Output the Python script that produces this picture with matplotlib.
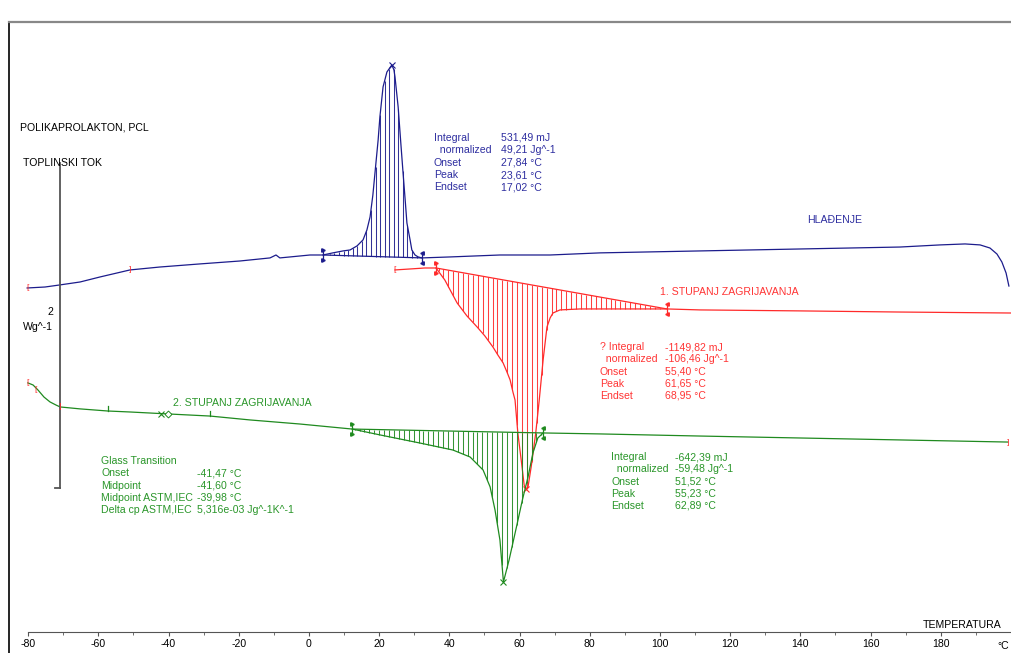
import numpy as np
import matplotlib.pyplot as plt
from matplotlib.lines import Line2D

plt.rcParams["font.family"] = ["Liberation Sans", "DejaVu Sans"]
plt.rcParams["axes.unicode_minus"] = False

# HLAĐENJE (plava krivulja), temperatura [°C] i toplinski tok [W/g]
cool_T = [-80.3, -75.2, -70.9, -65.2, -59.5, -51.0, -42.5, -31.1, -19.7, -11.1, -9.4, -8.3, -5.4, 0.3,
          4.0, 6.8, 9.7, 11.7, 13.7, 15.4, 16.5, 17.4, 18.2, 18.8, 19.7, 20.2, 21.1, 22.2, 23.6,
          24.2, 24.5, 25.4, 26.2, 26.8, 27.4, 27.9, 28.8, 29.3, 30.2, 31.1, 32.2,
          40.2, 54.4, 68.7, 82.9, 97.2, 111.4, 125.6, 139.9, 154.1, 168.4, 179.8, 186.9,
          191.2, 194.0, 196.0, 197.4, 198.6, 199.4]
cool_hf = [2.246, 2.252, 2.265, 2.283, 2.314, 2.357, 2.375, 2.394, 2.412, 2.431, 2.449, 2.431, 2.437, 2.449,
           2.449, 2.462, 2.474, 2.480, 2.505, 2.542, 2.603, 2.683, 2.818, 2.954, 3.157, 3.298, 3.483, 3.575, 3.618,
           3.588, 3.545, 3.360, 3.126, 2.954, 2.788, 2.646, 2.542, 2.480, 2.449, 2.437, 2.431,
           2.437, 2.449, 2.449, 2.462, 2.468, 2.474, 2.480, 2.486, 2.492, 2.498, 2.511, 2.517,
           2.511, 2.492, 2.455, 2.406, 2.338, 2.258]

# 1. STUPANJ ZAGRIJAVANJA (crvena)
heat1_T = [24.5, 28.8, 33.0, 36.2, 38.7, 42.2, 45.0, 47.9, 50.1, 52.4, 53.8, 55.3, 56.4, 57.3, 58.1,
           58.7, 59.5, 60.7, 61.3, 61.7, 62.4, 63.3, 64.6, 65.6, 66.7, 67.8, 68.7, 69.5, 71.5,
           77.2, 88.6, 102.0, 111.4, 139.9, 168.4, 200.0]
heat1_hf = [2.357, 2.363, 2.369, 2.369, 2.295, 2.154, 2.074, 2.006, 1.951, 1.883, 1.834, 1.785, 1.729, 1.680, 1.606,
            1.557, 1.354, 1.145, 1.034, 1.009, 1.022, 1.145, 1.354, 1.557, 1.803, 2.006, 2.062, 2.092, 2.111,
            2.117, 2.117, 2.117, 2.111, 2.105, 2.098, 2.092]

# 2. STUPANJ ZAGRIJAVANJA (zelena)
heat2_T = [-80.1, -78.6, -77.2, -75.5, -73.8, -72.1, -70.9, -65.2, -57.3, -51.0, -40.2, -28.2, -16.8, -2.6,
           12.3, 20.2, 31.6, 41.0, 45.9, 49.6, 51.6, 53.0, 54.4, 55.4, 57.0, 59.1, 60.8, 62.4, 63.8,
           65.2, 66.7, 82.9, 111.4, 139.9, 168.4, 199.1]
heat2_hf = [1.662, 1.649, 1.618, 1.575, 1.545, 1.526, 1.514, 1.502, 1.489, 1.483, 1.471, 1.458, 1.434, 1.409,
            1.378, 1.342, 1.292, 1.249, 1.206, 1.126, 1.022, 0.880, 0.695, 0.437, 0.572, 0.775, 0.942, 1.083, 1.231,
            1.323, 1.354, 1.348, 1.335, 1.323, 1.311, 1.298]

# granice integracije i vrhovi
cool_lim = (4.0, 32.2)
heat1_lim = (36.2, 102.0)
heat2_lim = (12.3, 66.7)
cool_peak = 23.6
heat1_peak = 61.7
heat2_peak = 55.4

cool_info = (["Integral", "  normalized", "Onset", "Peak", "Endset"],
             ["531,49 mJ", "49,21 Jg^-1", "27,84 °C", "23,61 °C", "17,02 °C"])
heat1_info = (["? Integral", "  normalized", "Onset", "Peak", "Endset"],
              ["-1149,82 mJ", "-106,46 Jg^-1", "55,40 °C", "61,65 °C", "68,95 °C"])
heat2_info = (["Integral", "  normalized", "Onset", "Peak", "Endset"],
              ["-642,39 mJ", "-59,48 Jg^-1", "51,52 °C", "55,23 °C", "62,89 °C"])
tg_info = (["Glass Transition", "Onset", "Midpoint", "Midpoint ASTM,IEC", "Delta cp ASTM,IEC"],
           ["", "-41,47 °C", "-41,60 °C", "-39,98 °C", "5,316e-03 Jg^-1K^-1"])

BLUE = "#1c1c8c"
RED = "#ff2a2a"
GREEN = "#1f8a1f"
BLUE_T = "#2e2ea0"
RED_T = "#ff3535"
GREEN_T = "#2a962a"
FS = 7.6

W, H = 1011, 653
fig = plt.figure(figsize=(W / 100, H / 100), dpi=100)
ax = fig.add_axes([0, 0, 1, 1])
ax.set_xlim(-88.03, 200.0)
ax.set_ylim(0, 4.018)


def px(x, y):
    # y je sredina teksta; pomak na baznu liniju (cijeli piksel)
    return x / W, 1 - round(y + 4) / H


def peak(T, hf, lim, pk, col, step):
    T = np.array(T)
    hf = np.array(hf)
    ax.plot(T, hf, color=col, lw=0.9)
    y0, y1 = np.interp(lim, T, hf)
    ax.plot(lim, [y0, y1], color=col, lw=0.9)
    ht = np.arange(lim[0] + step / 2, lim[1], step)
    base = np.interp(ht, lim, [y0, y1])
    ax.vlines(ht, base, np.interp(ht, T, hf), color=col, lw=0.75, alpha=0.9)
    for t, y, m in [(lim[0], y0, ">"), (lim[1], y1, "<")]:
        ax.plot([t, t], [y - 0.035, y + 0.035], color=col, lw=0.9)
        ax.plot([t, t], [y - 0.03, y + 0.03], ls="none", marker=m, ms=2.5, color=col)
    ax.plot(pk, np.interp(pk, T, hf), marker="x", ms=5, mew=0.8, color=col)


peak(cool_T, cool_hf, cool_lim, cool_peak, BLUE, 1.3)
peak(heat1_T, heat1_hf, heat1_lim, heat1_peak, RED, 1.4)
peak(heat2_T, heat2_hf, heat2_lim, heat2_peak, GREEN, 1.4)

# oznake staklastog prijelaza
tg_marks = [-57.3, -28.2]
for t in tg_marks:
    y = np.interp(t, heat2_T, heat2_hf)
    ax.plot([t, t], [y, y + 0.03], color=GREEN, lw=0.9)
ax.plot(-42.3, np.interp(-42.3, heat2_T, heat2_hf), marker="x", ms=4, mew=0.8, color=GREEN)
ax.plot(-40.2, np.interp(-40.2, heat2_T, heat2_hf), marker="D", ms=3.5, mfc="white", mew=0.7, color=GREEN)

# crvene zagrade (granice evaluacije)
brackets = [(cool_T[0], cool_hf[0], "["), (-51.0, 2.357, "]"), (heat1_T[0], heat1_hf[0], "["),
            (heat2_T[0], heat2_hf[0], "["), (-77.8, 1.62, "["), (-70.9, 1.514, "]"),
            (heat2_T[-1], heat2_hf[-1], "]")]
for t, y, s in brackets:
    ax.text(t, y, s, color=RED, fontsize=6, ha="center", va="center")

# mjerilo toplinskog toka: 2 W/g
bar_T = -70.9
bar_bottom = 1.015
bar_len = 2.0
ax.plot([bar_T, bar_T], [bar_bottom, bar_bottom + bar_len], color="#555555", lw=1.3)
ax.plot([bar_T - 1.6, bar_T], [bar_bottom, bar_bottom], color="#555555", lw=1.3)

# os temperature
for s in ["left", "right", "top"]:
    ax.spines[s].set_visible(False)
ax.spines["bottom"].set_position(("data", 0.129))
ax.spines["bottom"].set_bounds(-80, 200)
ax.spines["bottom"].set_color("#555555")
ax.set_yticks([])
ax.set_xticks(np.arange(-80, 181, 20))
ax.set_xticks(np.arange(-80, 201, 10), minor=True)
ax.tick_params(axis="x", which="both", direction="out", length=3, color="#555555",
               labelsize=FS, pad=2)
ax.tick_params(axis="x", which="minor", length=2.5)
ax.set_facecolor("white")

# okvir
fig.add_artist(Line2D([9 / W, 9 / W], [0, 1 - 22 / H], color="black", lw=1.2))
fig.add_artist(Line2D([9 / W, 1], [1 - 22 / H, 1 - 22 / H], color="#888888", lw=1.6))

kw = dict(transform=fig.transFigure, fontsize=FS, va="baseline")
fig.text(*px(20, 126), "POLIKAPROLAKTON, PCL", color="black", **kw)
fig.text(*px(23, 162), "TOPLINSKI TOK", color="black", **kw)
fig.text(*px(50, 311), "2", color="black", ha="center", **kw)
fig.text(*px(53, 326), "Wg^-1", color="black", ha="right", **kw)
fig.text(*px(923, 624), "TEMPERATURA", color="black", **kw)
fig.text(*px(1003, 645), "°C", color="black", ha="center", **kw)
fig.text(*px(807, 219), "HLAĐENJE", color=BLUE_T, **kw)
fig.text(*px(660, 291), "1. STUPANJ ZAGRIJAVANJA", color=RED_T, **kw)
fig.text(*px(173, 402), "2. STUPANJ ZAGRIJAVANJA", color=GREEN_T, **kw)


def block(info, x0, x1, y0, col, dy=12.3):
    for i, (a, b) in enumerate(zip(*info)):
        fig.text(*px(x0, y0 + i * dy), a, color=col, **kw)
        fig.text(*px(x1, y0 + i * dy), b, color=col, **kw)


block(cool_info, 434, 501, 137, BLUE_T)
block(heat1_info, 600, 665, 346, RED_T)
block(heat2_info, 611, 675, 456, GREEN_T)
block(tg_info, 101, 197, 460, GREEN_T)

fig.savefig("out.png", dpi=100)
